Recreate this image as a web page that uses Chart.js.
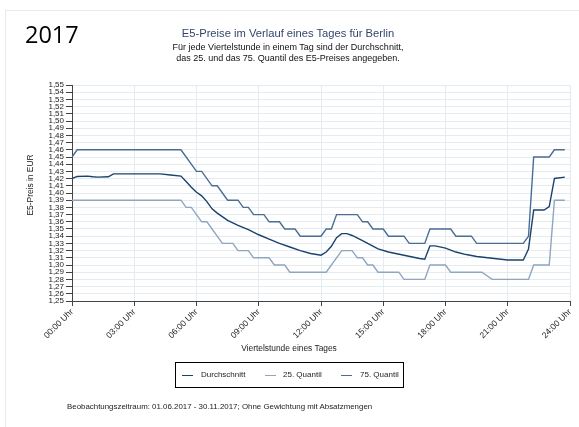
<!DOCTYPE html>
<html>
<head>
<meta charset="utf-8">
<script src="https://cdn.jsdelivr.net/npm/chart.js@4/dist/chart.umd.min.js"></script>
<style>
  body { margin: 0; background: #fff; font-family: "Liberation Sans", Arial, sans-serif; }
  #wrap { position: relative; width: 579px; height: 427px; overflow: hidden; }
  #frame { position: absolute; left: 5px; top: 10px; width: 600px; height: 500px; border: 1px solid #e4ecec; }
  #chart { position: absolute; left: 0; top: 0; }
  .txt { position: absolute; white-space: nowrap; }
  #year { left: 25px; top: 18px; font-family: "Open Sans", sans-serif; font-size: 23.5px; color: #000; }
  #title { left: 0; width: 576px; top: 27px; text-align: center; font-size: 11.2px; color: #34466e; }
  #sub { left: 0; width: 576px; top: 42px; text-align: center; font-size: 9px; line-height: 10.5px; color: #111; }
  #xtitle { left: 189px; width: 200px; top: 343px; text-align: center; font-size: 8.4px; color: #222; }
  #ytitle { left: -70px; width: 200px; top: 180px; text-align: center; font-size: 8.4px; color: #222; transform: rotate(-90deg); }
  #legend { position: absolute; left: 175px; top: 362px; width: 227px; height: 24px; border: 1px solid #000; font-size: 8px; color: #222; }
  .sw { position: absolute; top: 12px; width: 11px; height: 1.3px; }
  .lt { position: absolute; top: 7px; }
  #foot { left: 67px; top: 402px; font-size: 7.9px; color: #222; }
</style>
</head>
<body>
<div id="wrap">
  <div id="frame"></div>
  <canvas id="chart" width="579" height="427"></canvas>
  <div class="txt" id="year">2017</div>
  <div class="txt" id="title">E5-Preise im Verlauf eines Tages für Berlin</div>
  <div class="txt" id="sub">Für jede Viertelstunde in einem Tag sind der Durchschnitt,<br>das 25. und das 75. Quantil des E5-Preises angegeben.</div>
  <div class="txt" id="ytitle">E5-Preis in EUR</div>
  <div class="txt" id="xtitle">Viertelstunde eines Tages</div>
  <div id="legend"></div>
  <div class="txt" id="foot">Beobachtungszeitraum: 01.06.2017 - 30.11.2017; Ohne Gewichtung mit Absatzmengen</div>
</div>
<script>
// Stunden (Viertelstunden als Dezimalzahl) und Preise in EUR
const hoursMean = [0, 0.25, 0.75, 1.0, 1.25, 1.75, 2.0, 4.25, 4.75, 5.25, 5.5, 5.75, 6.0, 6.25, 6.5, 6.75, 7.0, 7.5, 8.0, 8.5, 9.0, 9.5, 10.0, 10.5, 11.0, 11.5, 12.0, 12.25, 12.5, 12.75, 13.0, 13.25, 13.5, 14.0, 14.25, 14.75, 15.25, 16.0, 16.75, 17.0, 17.25, 17.5, 18.0, 18.5, 19.0, 19.5, 20.25, 21.0, 21.75, 22.0, 22.25, 22.75, 23.0, 23.25, 23.75];
const mean = [1.420, 1.423, 1.4235, 1.4225, 1.422, 1.4225, 1.4265, 1.4265, 1.425, 1.4235, 1.416, 1.408, 1.401, 1.396, 1.388, 1.378, 1.372, 1.362, 1.355, 1.349, 1.342, 1.336, 1.330, 1.325, 1.320, 1.316, 1.3136, 1.318, 1.326, 1.338, 1.3436, 1.3436, 1.341, 1.334, 1.330, 1.3225, 1.318, 1.3136, 1.309, 1.308, 1.3265, 1.3265, 1.3235, 1.318, 1.3145, 1.3118, 1.3094, 1.307, 1.307, 1.322, 1.3763, 1.3763, 1.381, 1.4202, 1.422];

const hours25 = [0, 5.25, 5.5, 5.75, 6.25, 6.5, 7.25, 7.75, 8.0, 8.5, 8.75, 9.5, 9.75, 10.25, 10.5, 12.25, 13.0, 13.5, 13.75, 14.0, 14.25, 14.5, 14.75, 15.75, 16.0, 17.0, 17.25, 18.0, 18.25, 19.75, 20.25, 22.0, 22.25, 23.0, 23.25, 23.75];
const q25 = [1.39, 1.39, 1.38, 1.38, 1.36, 1.36, 1.33, 1.33, 1.32, 1.32, 1.31, 1.31, 1.30, 1.30, 1.29, 1.29, 1.32, 1.32, 1.31, 1.31, 1.30, 1.30, 1.29, 1.29, 1.28, 1.28, 1.30, 1.30, 1.29, 1.29, 1.28, 1.28, 1.30, 1.30, 1.39, 1.39];

const hours75 = [0, 0.25, 5.25, 6.0, 6.25, 6.75, 7.0, 7.5, 8.0, 8.25, 8.5, 8.75, 9.25, 9.5, 10.0, 10.25, 10.75, 11.0, 12.0, 12.25, 12.5, 12.75, 13.75, 14.0, 14.25, 14.5, 15.0, 15.25, 16.0, 16.25, 17.0, 17.25, 18.25, 18.5, 19.25, 19.5, 21.75, 22.0, 22.25, 23.0, 23.25, 23.75];
const q75 = [1.45, 1.46, 1.46, 1.43, 1.43, 1.41, 1.41, 1.39, 1.39, 1.38, 1.38, 1.37, 1.37, 1.36, 1.36, 1.35, 1.35, 1.34, 1.34, 1.35, 1.35, 1.37, 1.37, 1.36, 1.36, 1.35, 1.35, 1.34, 1.34, 1.33, 1.33, 1.35, 1.35, 1.34, 1.34, 1.33, 1.33, 1.34, 1.45, 1.45, 1.46, 1.46];

const seriesNames = ["Durchschnitt", "25. Quantil", "75. Quantil"];
const seriesColors = ["#1b416d", "#8fa5c0", "#4a6d94"];

const yMin = 1.25, yMax = 1.55, yStep = 0.01;
const xMin = 0, xMax = 24, xStep = 3;

function toPoints(hours, values) {
  return hours.map((h, i) => ({ x: h, y: values[i] }));
}

// Legende als HTML-Kasten
const legendPos = [[6, 25], [89, 107], [165, 184]];
const legend = document.getElementById("legend");
seriesNames.forEach((name, i) => {
  const sw = document.createElement("div");
  sw.className = "sw";
  sw.style.left = legendPos[i][0] + "px";
  sw.style.background = seriesColors[i];
  legend.appendChild(sw);
  const t = document.createElement("div");
  t.className = "lt";
  t.style.left = legendPos[i][1] + "px";
  t.textContent = name;
  legend.appendChild(t);
});

const gridColor = "#e3ecf0";
const axisColor = "#444";

new Chart(document.getElementById("chart").getContext("2d"), {
  type: "line",
  data: {
    datasets: [
      { label: seriesNames[0], data: toPoints(hoursMean, mean), borderColor: seriesColors[0], borderWidth: 1.4 },
      { label: seriesNames[1], data: toPoints(hours25, q25), borderColor: seriesColors[1], borderWidth: 1.4 },
      { label: seriesNames[2], data: toPoints(hours75, q75), borderColor: seriesColors[2], borderWidth: 1.4 }
    ]
  },
  options: {
    responsive: false,
    animation: false,
    devicePixelRatio: 1,
    layout: { padding: { top: 85, right: 9, left: 0, bottom: 66 } },
    elements: { point: { radius: 0 }, line: { tension: 0 } },
    plugins: { legend: { display: false }, tooltip: { enabled: false } },
    scales: {
      x: {
        type: "linear",
        min: xMin,
        max: xMax,
        afterFit: (s) => { s.height = 60; },
        border: { color: axisColor, width: 1 },
        grid: { color: gridColor, tickColor: axisColor, tickLength: 5 },
        ticks: {
          stepSize: xStep,
          autoSkip: false,
          maxRotation: 45,
          minRotation: 45,
          padding: 1,
          color: "#222",
          font: { family: "Liberation Sans", size: 8.5 },
          callback: (v) => String(v).padStart(2, "0") + ":00 Uhr"
        }
      },
      y: {
        min: yMin,
        max: yMax,
        afterFit: (s) => { s.width = 72; },
        border: { color: axisColor, width: 1 },
        grid: { color: gridColor, tickColor: axisColor, tickLength: 6 },
        ticks: {
          stepSize: yStep,
          autoSkip: false,
          padding: 2,
          color: "#222",
          font: { family: "Liberation Sans", size: 8, lineHeight: 1 },
          callback: (v) => v.toFixed(2).replace(".", ",")
        }
      }
    }
  }
});
</script>
</body>
</html>
